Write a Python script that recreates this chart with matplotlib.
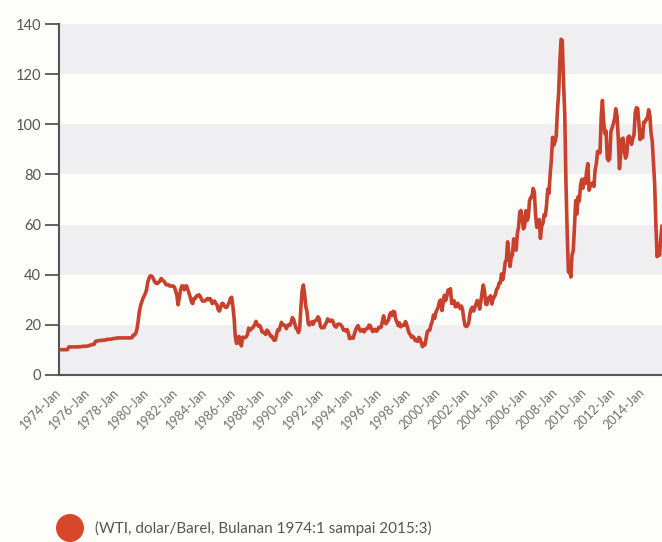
import matplotlib.pyplot as plt
from matplotlib.patches import Ellipse
import matplotlib.transforms as mtransforms

plt.rcParams['font.family'] = ['Lato', 'DejaVu Sans']

# monthly WTI spot price, dolar/barel, one row per year
wti_1974_1984 = [
    10.1, 10.1, 10.1, 10.1, 10.1, 10.1, 10.1, 10.1, 11.2, 11.2, 11.2, 11.2,
    11.2, 11.2, 11.2, 11.2, 11.2, 11.3, 11.3, 11.4, 11.4, 11.5, 11.5, 11.5,
    11.6, 11.8, 12.0, 12.0, 12.2, 12.3, 13.4, 13.6, 13.6, 13.7, 13.8, 13.8,
    13.9, 13.9, 13.9, 14.2, 14.2, 14.2, 14.3, 14.3, 14.4, 14.6, 14.6, 14.6,
    14.8, 14.8, 14.8, 14.8, 14.8, 14.8, 14.8, 14.8, 14.8, 14.8, 14.8, 14.8,
    14.9, 15.9, 15.9, 16.5, 18.0, 21.0, 25.0, 27.5, 29.0, 30.5, 31.5, 32.5,
    34.0, 37.0, 38.5, 39.5, 39.5, 39.0, 38.0, 37.0, 36.5, 36.5, 37.0, 37.5,
    38.5, 38.0, 37.5, 37.0, 36.0, 36.0, 36.0, 35.5, 35.5, 35.5, 35.5, 35.0,
    33.5, 31.5, 28.0, 31.0, 34.0, 35.5, 35.5, 34.0, 35.5, 35.5, 34.0, 32.5,
    31.0, 29.0, 28.5, 30.5, 30.5, 31.5, 31.5, 32.0, 31.5, 30.5, 29.5, 29.5,
    29.5, 30.0, 30.5, 30.0, 30.5, 30.0, 28.5, 29.0, 29.5, 28.5, 28.0, 26.0,
]
wti_1985_1995 = [
    25.5, 27.0, 28.5, 28.5, 27.5, 27.0, 27.0, 28.0, 29.0, 30.5, 31.0, 27.5,
    22.9, 15.4, 12.6, 12.8, 15.4, 13.5, 11.6, 15.1, 14.9, 14.9, 15.2, 16.1,
    18.7, 17.8, 18.3, 18.6, 19.4, 20.0, 21.4, 20.3, 19.5, 19.8, 18.9, 17.2,
    17.1, 16.7, 16.2, 17.9, 17.4, 16.5, 15.5, 15.5, 14.5, 13.8, 14.0, 16.3,
    18.0, 17.8, 19.4, 21.0, 20.0, 20.0, 19.6, 18.5, 19.6, 20.1, 19.8, 21.1,
    22.9, 22.1, 20.4, 18.6, 18.2, 16.9, 18.6, 27.2, 33.7, 35.9, 32.3, 27.3,
    25.2, 20.5, 19.9, 20.8, 21.2, 20.2, 21.4, 21.7, 21.9, 23.2, 22.5, 19.5,
    18.8, 19.0, 18.9, 20.2, 20.9, 22.4, 21.8, 21.4, 21.9, 21.7, 20.3, 19.4,
    19.1, 20.1, 20.3, 20.3, 19.9, 19.1, 17.9, 18.0, 17.5, 18.1, 16.7, 14.5,
    15.0, 14.8, 14.7, 16.4, 17.9, 19.1, 19.7, 18.4, 17.5, 17.7, 18.1, 17.2,
    18.0, 18.5, 18.6, 19.9, 19.7, 18.4, 17.3, 18.0, 18.2, 17.4, 18.0, 19.0,
]
wti_1996_2006 = [
    18.9, 19.1, 21.4, 23.6, 21.2, 20.4, 21.3, 21.9, 24.0, 24.9, 23.7, 25.4,
    25.1, 22.2, 20.9, 19.7, 20.8, 19.2, 19.6, 19.9, 19.8, 21.3, 20.2, 18.3,
    16.7, 16.1, 15.0, 15.4, 14.9, 13.7, 14.1, 13.4, 15.0, 14.4, 12.9, 11.3,
    12.5, 12.0, 14.7, 17.3, 17.8, 17.9, 20.1, 21.3, 23.9, 22.6, 25.0, 26.1,
    27.2, 29.4, 29.9, 25.7, 28.8, 31.8, 29.7, 31.3, 33.9, 33.1, 34.4, 28.5,
    29.6, 29.6, 27.2, 27.4, 28.6, 27.6, 26.5, 27.5, 25.9, 22.2, 19.7, 19.3,
    19.7, 20.7, 24.4, 26.3, 27.0, 25.5, 26.9, 28.4, 29.7, 28.9, 26.3, 29.4,
    32.9, 35.9, 33.6, 28.3, 28.1, 30.7, 30.8, 31.6, 28.3, 30.3, 31.1, 32.1,
    34.3, 34.7, 36.7, 36.7, 40.3, 38.0, 40.7, 44.9, 45.9, 53.1, 48.5, 43.3,
    46.8, 48.0, 54.3, 53.0, 49.8, 56.4, 59.0, 65.0, 65.6, 62.4, 58.3, 59.4,
    65.5, 61.6, 62.7, 69.4, 70.8, 70.9, 74.4, 73.0, 63.8, 58.9, 59.4, 62.0,
]
wti_2007_2015 = [
    54.5, 59.3, 60.4, 63.9, 63.5, 67.5, 74.1, 72.4, 79.9, 85.8, 94.8, 91.7,
    93.0, 95.4, 105.5, 112.6, 125.4, 133.9, 133.4, 116.7, 104.1, 76.6, 57.3, 41.1,
    41.7, 39.1, 47.9, 49.6, 59.0, 69.6, 64.2, 71.1, 69.4, 75.7, 78.0, 74.5,
    78.3, 76.4, 81.2, 84.3, 73.7, 75.3, 76.3, 76.6, 75.2, 81.9, 84.3, 89.2,
    89.2, 88.6, 102.9, 109.5, 100.9, 96.3, 97.3, 86.3, 85.5, 86.3, 97.2, 98.6,
    100.3, 102.2, 106.2, 103.3, 94.7, 82.3, 87.9, 94.1, 94.5, 89.5, 86.5, 87.9,
    94.8, 95.3, 92.9, 92.0, 94.5, 95.8, 104.6, 106.6, 106.3, 100.5, 93.9, 97.6,
    94.6, 100.8, 100.8, 102.1, 102.2, 105.8, 103.6, 96.5, 93.2, 84.4, 75.8, 59.3,
    47.2, 50.6, 47.8, 54.5, 59.3,
]
prices = wti_1974_1984 + wti_1985_1995 + wti_1996_2006 + wti_2007_2015

tick_years = list(range(1974, 2015, 2))
tick_labels = [f"{y}-Jan" for y in tick_years]
tick_pos = [(y - 1974) * 12 for y in tick_years]

legend_text = "(WTI, dolar/Barel, Bulanan 1974:1 sampai 2015:3)"

LINE_RED = '#c8412c'
GREY = '#555555'
BAND = '#efeff1'
BG = '#fdfdf9'

W, H = 662, 542
fig = plt.figure(figsize=(W / 100, H / 100), dpi=100, facecolor=BG)
ax = fig.add_axes([59 / W, (H - 375) / H, (W - 59) / W, 351 / H])
ax.set_facecolor(BG)

# alternating horizontal bands
for lo in range(0, 140, 40):
    ax.axhspan(lo, lo + 20, color=BAND, lw=0, zorder=0)

x = list(range(len(prices)))
ax.plot(x, prices, color=LINE_RED, lw=2.6, solid_joinstyle='round', zorder=3)

ax.set_xlim(0, len(prices) - 1)
ax.set_ylim(0, 140)
ax.set_yticks(range(0, 141, 20))
ax.set_xticks(tick_pos)
ax.set_xticklabels(tick_labels, rotation=45, ha='right', va='center',
                   rotation_mode='anchor')
offset = mtransforms.ScaledTranslation(4 / 72, -1 / 72, fig.dpi_scale_trans)
for lbl in ax.get_xticklabels():
    lbl.set_transform(lbl.get_transform() + offset)

ax.tick_params(axis='x', length=0, pad=11, labelsize=9, labelcolor='#707070')
ax.tick_params(axis='y', length=10, width=1.3, color=GREY, pad=3,
               labelsize=10.5, labelcolor=GREY)

for side in ('top', 'right'):
    ax.spines[side].set_visible(False)
for side in ('left', 'bottom'):
    ax.spines[side].set_color(GREY)
    ax.spines[side].set_linewidth(1.5)

# legend marker and caption below the chart
fig.add_artist(Ellipse((70 / W, (H - 528) / H), 28 / W, 28 / H,
                       transform=fig.transFigure, facecolor='#d9472b',
                       edgecolor='none'))
fig.text(95 / W, (H - 528) / H, legend_text, fontsize=11, color=GREY,
         va='center', ha='left')

fig.savefig('out.png', dpi=100, facecolor=BG)
